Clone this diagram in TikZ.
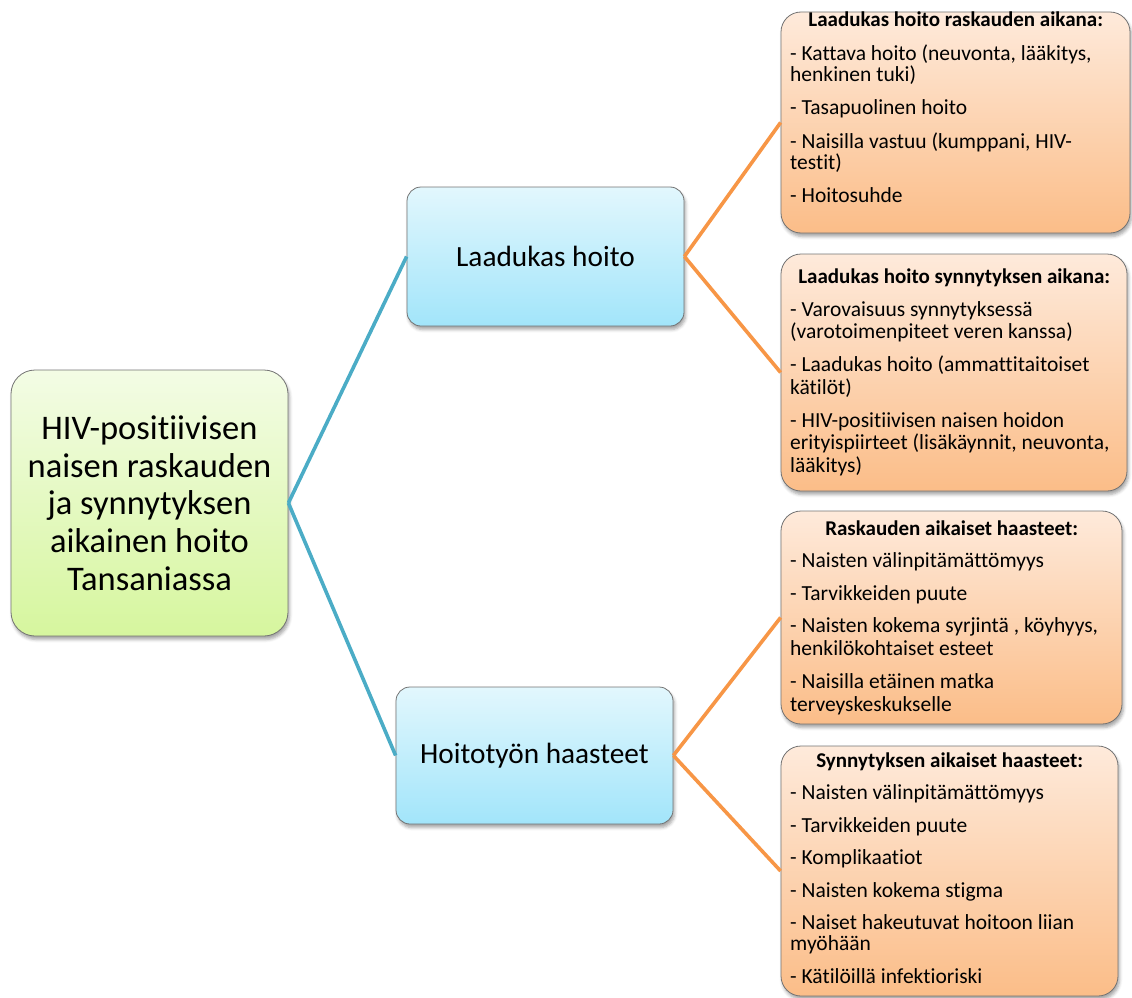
\documentclass[tikz,border=0pt]{standalone}
\usepackage{fontspec}
\setmainfont{Carlito}[Ligatures=NoCommon]
\usetikzlibrary{shadows.blur}
\definecolor{lineblue}{HTML}{4BACC6}
\definecolor{lineorange}{HTML}{F79646}
\definecolor{greentop}{HTML}{F3FCE5}
\definecolor{greenbot}{HTML}{D6F69E}
\definecolor{bluetop}{HTML}{E2F7FD}
\definecolor{bluebot}{HTML}{A2E5FA}
\definecolor{orangetop}{HTML}{FEEADB}
\definecolor{orangebot}{HTML}{FBBD88}
\begin{document}
\begin{tikzpicture}[x=1pt,y=-1pt,
  boxbase/.style={draw=black!55, line width=0.8pt, inner sep=0pt,
    blur shadow={shadow xshift=1.5pt, shadow yshift=-3.5pt, shadow blur radius=3pt, shadow opacity=35}},
  rootbox/.style={boxbase, rounded corners=24pt, top color=greentop, bottom color=greenbot,
    align=center, font=\fontsize{34.5}{37.7}\selectfont},
  midbox/.style={boxbase, rounded corners=14pt, top color=bluetop, bottom color=bluebot,
    minimum width=277pt, font=\fontsize{29.3}{34}\selectfont},
  obox/.style={boxbase, rounded corners=20pt, top color=orangetop, bottom color=orangebot},
  otext/.style={anchor=base west, inner sep=0pt},
  bline/.style={draw=lineblue, line width=3.6pt},
  oline/.style={draw=lineorange, line width=3.6pt}
]
\useasboundingbox (0,0) rectangle (1132,998);

% boxes
\node[rootbox, minimum width=277pt, minimum height=266pt] (root) at (149.5,503)
  {HIV-positiivisen\\naisen raskauden\\ja synnytyksen\\aikainen hoito\\Tansaniassa};
\node[midbox, minimum height=139pt] (lq) at (545.5,256.5) {Laadukas hoito};
\node[midbox, minimum height=137pt] (ht) at (534.5,755.5) {Hoitotyön haasteet};

\node[obox, minimum width=349pt, minimum height=221pt] (b1) at (955.5,122.5) {};
\node[obox, minimum width=346pt, minimum height=237pt] (b2) at (954,372.5) {};
\node[obox, minimum width=341pt, minimum height=213pt] (b3) at (951.5,617.5) {};
\node[obox, minimum width=337pt, minimum height=250pt] (b4) at (949.5,871) {};

% connectors
\draw[bline] (root.east) -- (lq.west);
\draw[bline] (root.east) -- (ht.west);
\draw[oline] (lq.east) -- (b1.west);
\draw[oline] (lq.east) -- (b2.west);
\draw[oline] (ht.east) -- (b3.west);
\draw[oline] (ht.east) -- (b4.west);

% texts in orange boxes
\node[otext] (t1) at (790,27) {\begin{minipage}[t]{331pt}%
{\centering\bfseries\fontsize{21}{21}\selectfont Laadukas hoito raskauden aikana:\par}%
\fontsize{21.5}{21}\selectfont\setlength\parskip{12.5pt}\raggedright
- Kattava hoito (neuvonta, lääkitys,\\henkinen tuki)\par
- Tasapuolinen hoito\par
- Naisilla vastuu (kumppani, HIV-\\testit)\par
- Hoitosuhde\par
\end{minipage}};

\node[otext] (t2) at (790,283) {\begin{minipage}[t]{328pt}%
{\centering\bfseries\fontsize{21}{21}\selectfont Laadukas hoito synnytyksen aikana:\par}%
\fontsize{21.5}{22.5}\selectfont\setlength\parskip{10.5pt}\raggedright
- Varovaisuus synnytyksessä\\(varotoimenpiteet veren kanssa)\par
- Laadukas hoito (ammattitaitoiset\\kätilöt)\par
- HIV-positiivisen naisen hoidon\\erityispiirteet (lisäkäynnit, neuvonta,\\lääkitys)\par
\end{minipage}};

\node[otext] (t3) at (790,535) {\begin{minipage}[t]{323pt}%
{\centering\bfseries\fontsize{21}{21}\selectfont Raskauden aikaiset haasteet:\par}%
\fontsize{21.5}{23}\selectfont\setlength\parskip{9.5pt}\raggedright
- Naisten välinpitämättömyys\par
- Tarvikkeiden puute\par
- Naisten kokema syrjintä , köyhyys,\\henkilökohtaiset esteet\par
- Naisilla etäinen matka\\terveyskeskukselle\par
\end{minipage}};

\node[otext] (t4) at (790,767) {\begin{minipage}[t]{319pt}%
{\centering\bfseries\fontsize{21}{21}\selectfont Synnytyksen aikaiset haasteet:\par}%
\fontsize{21.5}{21}\selectfont\setlength\parskip{11.5pt}\raggedright
- Naisten välinpitämättömyys\par
- Tarvikkeiden puute\par
- Komplikaatiot\par
- Naisten kokema stigma\par
- Naiset hakeutuvat hoitoon liian\\myöhään\par
- Kätilöillä infektioriski\par
\end{minipage}};
\end{tikzpicture}
\end{document}
